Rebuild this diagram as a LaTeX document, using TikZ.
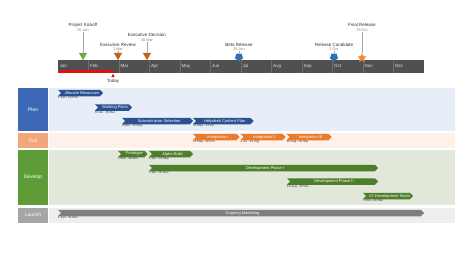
\documentclass[tikz,border=0pt]{standalone}
\usepackage{fontspec}
\setmainfont{Liberation Sans}
\usetikzlibrary{shapes.geometric}
\definecolor{tlbar}{HTML}{505050}
\definecolor{tlsep}{HTML}{6E6E6E}
\definecolor{today}{HTML}{E01010}
\definecolor{planlab}{HTML}{3D68B8}
\definecolor{planbg}{HTML}{E8EEF7}
\definecolor{planbar}{HTML}{2C5190}
\definecolor{toollab}{HTML}{F2A77A}
\definecolor{toolbg}{HTML}{FDF1EA}
\definecolor{toolbar}{HTML}{EA7A2C}
\definecolor{devlab}{HTML}{5E9C38}
\definecolor{devbg}{HTML}{E1E7D9}
\definecolor{devbar}{HTML}{4C7E2B}
\definecolor{lchlab}{HTML}{A6A6A6}
\definecolor{lchbg}{HTML}{EEEEEE}
\definecolor{lchbar}{HTML}{7F7F7F}
\definecolor{msgreen}{HTML}{6FAA3E}
\definecolor{msorange}{HTML}{C8601A}
\definecolor{msblue}{HTML}{2E72B5}
\definecolor{msstar}{HTML}{F08A3A}
\newcommand\myfs[1]{\fontsize{#1}{#1}\selectfont}
\tikzset{
  tasktext/.style={text=white, font=\myfs{4}, inner sep=0pt},
  datetext/.style={text=black!80, font=\myfs{3}, inner sep=0pt, anchor=north west},
  lanelabel/.style={text=white, font=\myfs{5}, inner sep=0pt},
  monthtext/.style={text=white!88!black, font=\myfs{4.5}, inner sep=0pt, anchor=west},
  mstitle/.style={text=black!80, font=\myfs{4.5}, inner sep=0pt},
  msdate/.style={text=black!50, font=\myfs{3.8}, inner sep=0pt},
  stem/.style={draw=black!35, line width=0.4pt},
  tri/.style={regular polygon, regular polygon sides=3, shape border rotate=180, minimum size=9.5pt, inner sep=0pt},
  pent/.style={regular polygon, regular polygon sides=5, shape border rotate=180, minimum size=8.5pt, inner sep=0pt},
  starm/.style={star, star points=5, star point ratio=2.1, minimum size=9.5pt, inner sep=0pt}
}
\newcommand\chevtask[7]{%
  \fill[#5] (#2,{#4-3.25}) -- ({#3-3},{#4-3.25}) -- (#3,#4) -- ({#3-3},{#4+3.25}) -- (#2,{#4+3.25}) -- ({#2+3},#4) -- cycle;
  \node[tasktext] (#1) at ({(#2+#3)/2+1.5},#4) {#6};
  \node[datetext] (#1d) at (#2,{#4+3.6}) {#7};
}
\begin{document}
\begin{tikzpicture}[x=1pt,y=-1pt]
\useasboundingbox[fill=white] (0,0) rectangle (474,260);
% lanes
\fill[planbg] (49,88) rectangle (455,131);
\fill[planlab] (18,88) rectangle (48,131);
\node[lanelabel] (plan) at (33,109.5) {Plan};
\fill[toolbg] (49,133) rectangle (455,148);
\fill[toollab] (18,133) rectangle (48,148);
\node[lanelabel] (tool) at (33,140.5) {Tool};
\fill[devbg] (49,150) rectangle (455,205);
\fill[devlab] (18,150) rectangle (48,205);
\node[lanelabel] (develop) at (33,177.5) {Develop};
\fill[lchbg] (49,208) rectangle (455,222.5);
\fill[lchlab] (18,208) rectangle (48,222.5);
\node[lanelabel] (launch) at (33,215.2) {Launch};
% timeline
\fill[tlbar] (58,60) rectangle (424,73);
\foreach \k in {1,...,11} \draw[tlsep, line width=0.4pt] ({58+30.5*\k},60) -- ({58+30.5*\k},73);
\fill[today] (58,69.5) rectangle (113,73);
\foreach \m [count=\i from 0] in {Jan,Feb,Mar,Apr,May,Jun,Jul,Aug,Sep,Oct,Nov,Dec}
  \node[monthtext] (mon\i) at ({59.5+30.5*\i},66) {\m};
\fill[today] (113,73.5) -- (114.6,77) -- (111.4,77) -- cycle;
\node[text=black!80, font=\myfs{4.5}, inner sep=0pt] (todaylab) at (113,81) {Today};
% milestones
\node[mstitle] (kick) at (83,25) {Project Kickoff};
\node[msdate] (kickd) at (83,30) {25 Jan};
\node[tri, fill=msgreen] (kickm) at (83,55.3) {};
\draw[stem] (kickd.south) -- (kickm.north);
\node[mstitle] (erev) at (118,45) {Executive Review};
\node[msdate] (erevd) at (118,49.5) {1 Mar};
\node[tri, fill=msorange] (erevm) at (118,55.3) {};
\draw[stem] (erevd.south) -- (erevm.north);
\node[mstitle] (edec) at (147,35) {Executive Decision};
\node[msdate] (edecd) at (147,40) {30 Mar};
\node[tri, fill=msorange] (edecm) at (147,55.3) {};
\draw[stem] (edecd.south) -- (edecm.north);
\node[mstitle] (beta) at (239,45) {Beta Release};
\node[msdate] (betad) at (239,49.5) {25 Jun};
\node[pent, fill=msblue] (betam) at (239,57) {};
\draw[stem] (betad.south) -- (betam.north);
\node[mstitle] (rc) at (334,45) {Release Candidate};
\node[msdate] (rcd) at (334,49.5) {2 Oct};
\node[pent, fill=msblue] (rcm) at (334,57) {};
\draw[stem] (rcd.south) -- (rcm.north);
\node[mstitle] (fin) at (362,25) {Final Release};
\node[msdate] (find) at (362,30) {29 Oct};
\node[starm, fill=msstar] (finm) at (362,58) {};
\draw[stem] (find.south) -- (finm.north);
% plan tasks
\chevtask{alloc}{58}{103}{93}{planbar}{Allocate Resources}{1 Jan - 13 Feb}
\chevtask{work}{95}{132}{107.5}{planbar}{Working Plans}{6 Feb - 15 Mar}
\chevtask{sub}{122}{193}{121}{planbar}{Subcontractor Selection}{6 Mar - 15 May}
\chevtask{help}{193}{253.5}{121}{planbar}{Helpdesk Content Plan}{15 May - 14 Jul}
% tool tasks
\chevtask{int1}{193}{239.5}{137}{toolbar}{Integration I}{15 May - 30 Jun}
\chevtask{int2}{240.5}{285.5}{137}{toolbar}{Integration II}{1 Jul - 15 Aug}
\chevtask{int3}{286.5}{331.5}{137}{toolbar}{Integration III}{16 Aug - 30 Sep}
% develop tasks
\chevtask{proto}{118}{147.5}{154}{devbar}{Prototype}{1 Mar - 30 Mar}
\chevtask{alpha}{149}{193}{154}{devbar}{Alpha Build}{1 Apr - 15 May}
\chevtask{dev1}{149}{378}{168}{devbar}{Development Phase I}{1 Apr - 15 Nov}
\chevtask{dev2}{287}{378}{181.5}{devbar}{Development Phase II}{16 Aug - 15 Nov}
\chevtask{v2}{363}{413}{196}{devbar}{V2 Development Starts}{1 Nov - 20 Dec}
% launch
\chevtask{mkt}{58}{424}{213}{lchbar}{Ongoing Marketing}{1 Jan - 31 Dec}
\end{tikzpicture}
\end{document}
